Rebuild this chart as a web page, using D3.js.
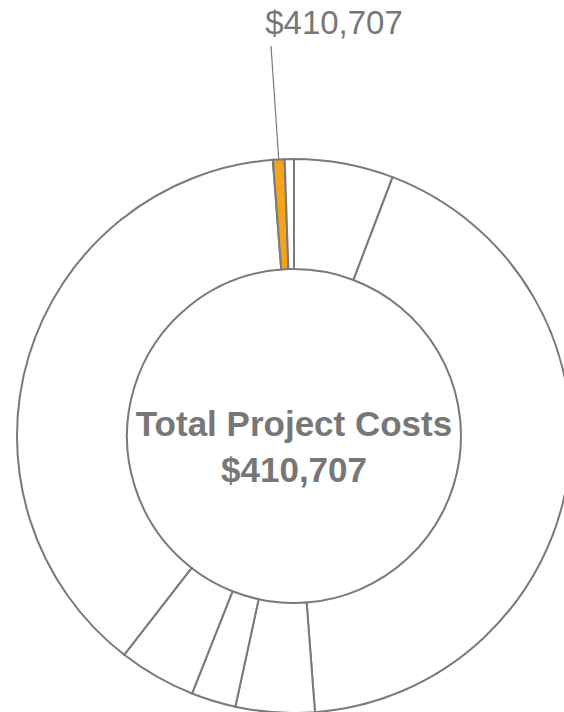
<!DOCTYPE html>
<html>
<head>
<meta charset="utf-8">
<script src="https://cdn.jsdelivr.net/npm/d3@7"></script>
<style>
  html, body { margin: 0; padding: 0; background: #fff; }
  svg { display: block; font-family: "Liberation Sans", Arial, sans-serif; }
</style>
</head>
<body>
<div id="chart"></div>
<script>
// cost items in drawing order, clockwise from 12 o'clock
var items = ["Item 1", "Item 2", "Item 3", "Item 4", "Item 5", "Item 6", "Item 7", "Item 8"];
var costs = [23800, 176600, 18900, 10700, 18500, 157207, 2800, 2200];
var fills = ["#ffffff", "#ffffff", "#ffffff", "#ffffff", "#ffffff", "#ffffff", "#f5a31c", "#ffffff"];
var labelled = "Item 7";
var centerTitle = "Total Project Costs";
var totalLabel = "$410,707";

var width = 564, height = 712;
var cx = 294, cy = 436;
var outerR = 277, innerR = 167;
var grey = "#7a7a7a";

var svg = d3.select("#chart")
    .append("svg")
    .attr("width", width)
    .attr("height", height);

var g = svg.append("g")
    .attr("transform", "translate(" + cx + "," + cy + ")");

var pie = d3.pie()
    .sort(null)
    .value(function (d) { return d.value; });

var data = items.map(function (name, i) {
    return { name: name, value: costs[i], fill: fills[i] };
});

var arc = d3.arc()
    .innerRadius(innerR)
    .outerRadius(outerR);

var arcs = pie(data);

g.selectAll("path.slice")
    .data(arcs)
    .enter()
    .append("path")
    .attr("class", "slice")
    .attr("d", arc)
    .attr("fill", function (d) { return d.data.fill; })
    .attr("stroke", grey)
    .attr("stroke-width", 2)
    .attr("stroke-linejoin", "miter");

// leader line + label for the highlighted slice
var hl = arcs.filter(function (d) { return d.data.name == labelled; })[0];
var mid = (hl.startAngle + hl.endAngle) / 2;
var edge = [Math.sin(mid) * outerR, -Math.cos(mid) * outerR];

g.append("line")
    .attr("x1", 271 - cx)
    .attr("y1", 46 - cy)
    .attr("x2", edge[0])
    .attr("y2", edge[1])
    .attr("stroke", grey)
    .attr("stroke-width", 1.2);

svg.append("text")
    .attr("x", 334)
    .attr("y", 34)
    .attr("text-anchor", "middle")
    .attr("fill", "#777")
    .style("font-size", "33px")
    .text(d3.format("$,")(d3.sum(costs)));

// centre title
g.append("text")
    .attr("x", 0)
    .attr("y", 0)
    .attr("text-anchor", "middle")
    .attr("fill", "#777")
    .style("font-size", "35px")
    .style("font-weight", "bold")
    .text(centerTitle);

g.append("text")
    .attr("x", 0)
    .attr("y", 46)
    .attr("text-anchor", "middle")
    .attr("fill", "#777")
    .style("font-size", "35px")
    .style("font-weight", "bold")
    .text(totalLabel);
</script>
</body>
</html>
